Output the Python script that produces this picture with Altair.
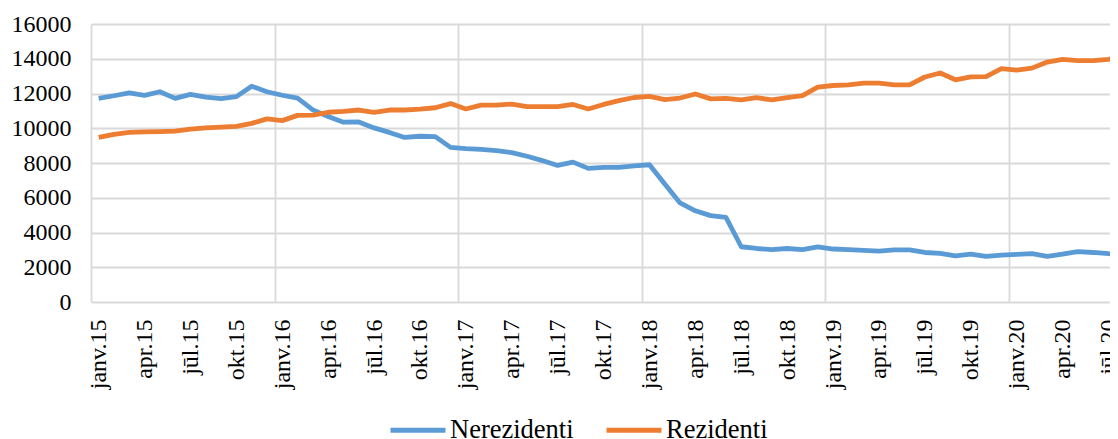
import json
import altair as alt
import pandas as pd

# ---- data ----
month_abbr = ["janv.", "febr.", "marts", "apr.", "maijs", "jūn.",
              "jūl.", "aug.", "sept.", "okt.", "nov.", "dec."]
years = ["15", "16", "17", "18", "19", "20"]
series_names = ["Nerezidenti", "Rezidenti"]
series_colors = ["#5B9BD5", "#ED7D31"]

nerezidenti = [
    11720, 11870, 12040, 11890, 12100, 11720, 11950, 11790, 11700, 11820, 12420, 12100,
    11900, 11730, 11060, 10680, 10350, 10360, 10020, 9760, 9470, 9540, 9520, 8900,
    8830, 8790, 8710, 8600, 8390, 8140, 7860, 8050, 7690, 7750, 7750, 7840,
    7900, 6790, 5700, 5250, 4970, 4870, 3180, 3080, 3010, 3080, 3010, 3170,
    3050, 3010, 2970, 2930, 3000, 3000, 2850, 2800, 2660, 2750, 2630, 2700,
    2740, 2790, 2630, 2760, 2900, 2850, 2780, 2730,
]
rezidenti = [
    9480, 9650, 9760, 9790, 9810, 9840, 9950, 10020, 10070, 10110, 10280, 10540,
    10440, 10740, 10760, 10920, 10970, 11050, 10920, 11050, 11050, 11100, 11180, 11420,
    11110, 11330, 11330, 11390, 11240, 11240, 11240, 11370, 11110, 11370, 11590, 11770,
    11840, 11650, 11740, 11970, 11690, 11720, 11630, 11760, 11630, 11760, 11880, 12370,
    12460, 12500, 12600, 12600, 12500, 12500, 12950, 13180, 12790, 12960, 12970, 13430,
    13350, 13460, 13810, 13960, 13890, 13890, 13960, 14170,
]
y_ticks = list(range(0, 16001, 2000))

n = len(nerezidenti)
month_labels = [month_abbr[i % 12] + years[i // 12] for i in range(n)]
label_positions = list(range(0, 67, 3))
year_bounds = [12 * k - 0.5 for k in range(6)]

rows = []
for i in range(n):
    rows.append({"idx": i, "series": series_names[0], "value": nerezidenti[i]})
for i in range(n):
    rows.append({"idx": i, "series": series_names[1], "value": rezidenti[i]})
df = pd.DataFrame(rows)

FONT = "Liberation Serif"
GRID = "#D9D9D9"
arr = json.dumps(month_labels, ensure_ascii=False)
label_expr = f"isValid({arr}[datum.value]) ? {arr}[datum.value] : ''"

x_axis = alt.Axis(
    values=label_positions + year_bounds,
    labelExpr=label_expr,
    labelAngle=-90,
    labelFont=FONT,
    labelFontSize=24,
    labelColor="#000000",
    labelPadding=17,
    labelOverlap=False,
    labelFlush=False,
    ticks=False,
    domain=False,
    grid=True,
    gridColor=GRID,
    gridWidth=1.8,
    gridOpacity={"condition": {"test": "(datum.value + 0.5) % 12 == 0", "value": 1}, "value": 0},
    title=None,
)
y_axis = alt.Axis(
    values=y_ticks,
    format="d",
    labelFont=FONT,
    labelFontSize=24,
    labelColor="#000000",
    labelPadding=20,
    ticks=False,
    domain=False,
    grid=True,
    gridColor=GRID,
    gridWidth=1.8,
    title=None,
)

chart = alt.Chart(df).mark_line(strokeWidth=4.8, clip=True, strokeJoin="round").encode(
    x=alt.X("idx:Q", scale=alt.Scale(domain=[-0.5, 66.1], nice=False, zero=False), axis=x_axis),
    y=alt.Y("value:Q", scale=alt.Scale(domain=[0, 16000], nice=False), axis=y_axis),
    color=alt.Color(
        "series:N",
        scale=alt.Scale(domain=series_names, range=series_colors),
        legend=alt.Legend(
            title=None,
            orient="none",
            legendX=297,
            legendY=376,
            direction="horizontal",
            symbolType="stroke",
            symbolSize=3025,
            symbolStrokeWidth=5,
            labelFont=FONT,
            labelFontSize=26.5,
            labelColor="#000000",
            labelOffset=2,
            columnPadding=22,
            padding=0,
        ),
    ),
    detail="series:N",
).properties(
    width=1019,
    height=278,
    autosize=alt.AutoSizeParams(type="none"),
    padding={"left": 83, "top": 16, "right": 0, "bottom": 137},
).configure_view(strokeWidth=0)

chart.save("out.html", embed_options={"renderer": "svg", "actions": False})
